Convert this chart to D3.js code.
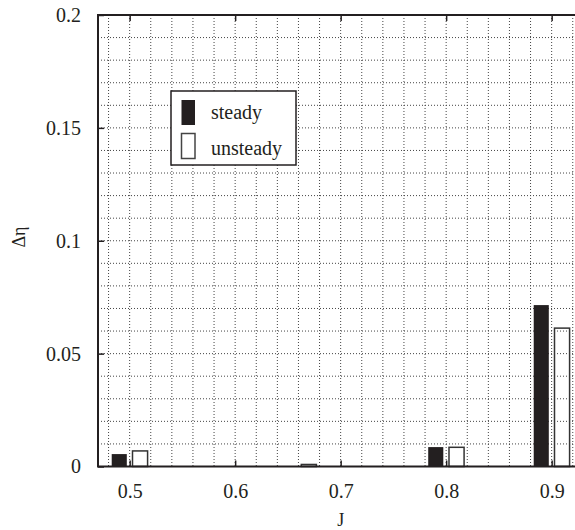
<!DOCTYPE html>
<html>
<head>
<meta charset="utf-8">
<script src="https://cdn.jsdelivr.net/npm/d3@7"></script>
<style>
  body { margin: 0; background: #fff; }
  svg text { font-family: "Liberation Serif", "Times New Roman", serif; fill: #231f20; }
  .grid line { stroke: #444; stroke-width: 1; stroke-dasharray: 1,2; }
  .axis line { stroke: #231f20; stroke-width: 1.5; }
</style>
</head>
<body>
<svg width="575" height="530"></svg>
<script>
// data
var jValues  = [0.5, 0.66, 0.8, 0.9];
var steady   = [0.0055, 0, 0.0086, 0.0715];
var unsteady = [0.0069, 0.0009, 0.0085, 0.0613];
var seriesNames = ["steady", "unsteady"];
var xTicks = [0.5, 0.6, 0.7, 0.8, 0.9];
var yTicks = [0, 0.05, 0.1, 0.15, 0.2];

var svg = d3.select("svg");
var pLeft = 98, pTop = 15, pBottom = 466.5;

var x = d3.scaleLinear().domain([0.47, 0.93]).range([pLeft, pLeft + 0.46 * 1055]);
var y = d3.scaleLinear().domain([0, 0.2]).range([pBottom, pTop]);

// bar offsets (in J units) around each J value
var barW = 0.0143, gap = 0.0027;
var offset = { steady: -gap - barW, unsteady: gap };

// grid
var gx = d3.range(24, 47).map(function(i) { return i / 50; });
var gy = d3.range(1, 20).map(function(i) { return i / 100; });
var grid = svg.append("g").attr("class", "grid");
grid.selectAll(".gv").data(gx).enter().append("line")
  .attr("x1", d => x(d)).attr("x2", d => x(d))
  .attr("y1", pTop).attr("y2", pBottom);
grid.selectAll(".gh").data(gy).enter().append("line")
  .attr("x1", pLeft).attr("x2", x(0.93))
  .attr("y1", d => y(d)).attr("y2", d => y(d));

// bars
var rows = jValues.map(function(j, i) {
  return { j: j, steady: steady[i], unsteady: unsteady[i] };
});
seriesNames.forEach(function(s) {
  svg.append("g").selectAll("rect")
    .data(rows.filter(d => d[s] > 0))
    .enter().append("rect")
    .attr("x", d => x(d.j + offset[s]))
    .attr("width", d => x(d.j + offset[s] + barW) - x(d.j + offset[s]))
    .attr("y", d => y(d[s]))
    .attr("height", d => y(0) - y(d[s]))
    .attr("fill", s == "steady" ? "#231f20" : "none")
    .attr("stroke", s == "steady" ? "none" : "#333")
    .attr("stroke-width", 1.5);
});

// axes
var fmt = d => String(d);
var ax = svg.append("g").attr("class", "axis").attr("transform", "translate(0," + pBottom + ")")
  .call(d3.axisBottom(x).tickValues(xTicks).tickSize(-6).tickPadding(17).tickFormat(fmt));
var axTop = svg.append("g").attr("class", "axis").attr("transform", "translate(0," + pTop + ")")
  .call(d3.axisTop(x).tickValues(xTicks).tickSize(-6).tickFormat(""));
var ay = svg.append("g").attr("class", "axis").attr("transform", "translate(" + pLeft + ",0)")
  .call(d3.axisLeft(y).tickValues(yTicks).tickSize(-6).tickPadding(17).tickFormat(fmt));
[ax, axTop, ay].forEach(function(a) {
  a.select(".domain").remove();
  a.attr("font-family", null).attr("font-size", 20);
});

// frame
svg.append("rect")
  .attr("x", pLeft).attr("y", pTop)
  .attr("width", x(0.93) - pLeft).attr("height", pBottom - pTop)
  .attr("fill", "none").attr("stroke", "#231f20").attr("stroke-width", 2);

// axis titles
svg.append("text").attr("x", x(0.7)).attr("y", 526)
  .attr("text-anchor", "middle").attr("font-size", 18).text("J");
svg.append("text").attr("transform", "translate(25,237) rotate(-90)")
  .attr("text-anchor", "middle").attr("font-size", 18).text("Δη");

// legend
var lg = svg.append("g");
lg.append("rect").attr("x", 171).attr("y", 91).attr("width", 125).attr("height", 74)
  .attr("fill", "#fff").attr("stroke", "#231f20").attr("stroke-width", 1.5);
seriesNames.forEach(function(s, i) {
  lg.append("rect").attr("x", 181.5).attr("y", 100 + i * 33.5)
    .attr("width", 13.5).attr("height", 25)
    .attr("fill", i == 0 ? "#231f20" : "#fff")
    .attr("stroke", i == 0 ? "none" : "#444").attr("stroke-width", 1.5);
  lg.append("text").attr("x", 211).attr("y", 118.5 + i * 36)
    .attr("font-size", 20).text(s);
});
</script>
</body>
</html>
